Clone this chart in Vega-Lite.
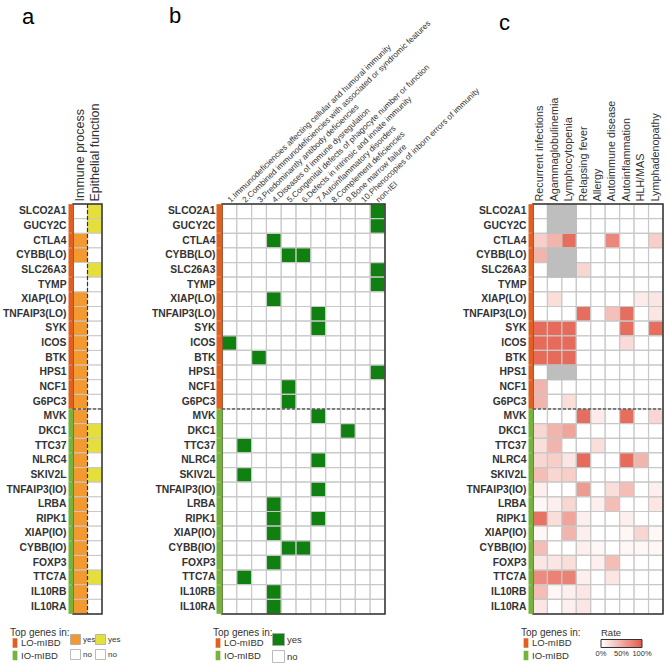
{
  "$schema": "https://vega.github.io/schema/vega-lite/v6.json",
  "padding": {"left": 2, "top": 5, "right": 5, "bottom": 5},
  "background": "white",
  "spacing": 120,
  "bounds": "flush",
  "config": {
    "view": {"stroke": null},
    "font": "Liberation Sans",
    "axis": {"labelFont": "Liberation Sans"},
    "legend": {"labelFont": "Liberation Sans", "titleFont": "Liberation Sans", "padding": 0},
    "title": {"font": "Liberation Sans"}
  },
  "datasets": {
    "a": [
      {"gene": "SLCO2A1", "group": "LO-mIBD", "Immune process": "no", "Epithelial function": "yes"},
      {"gene": "GUCY2C", "group": "LO-mIBD", "Immune process": "no", "Epithelial function": "yes"},
      {"gene": "CTLA4", "group": "LO-mIBD", "Immune process": "yes", "Epithelial function": "no"},
      {"gene": "CYBB(LO)", "group": "LO-mIBD", "Immune process": "yes", "Epithelial function": "no"},
      {"gene": "SLC26A3", "group": "LO-mIBD", "Immune process": "no", "Epithelial function": "yes"},
      {"gene": "TYMP", "group": "LO-mIBD", "Immune process": "no", "Epithelial function": "no"},
      {"gene": "XIAP(LO)", "group": "LO-mIBD", "Immune process": "yes", "Epithelial function": "no"},
      {"gene": "TNFAIP3(LO)", "group": "LO-mIBD", "Immune process": "yes", "Epithelial function": "no"},
      {"gene": "SYK", "group": "LO-mIBD", "Immune process": "yes", "Epithelial function": "no"},
      {"gene": "ICOS", "group": "LO-mIBD", "Immune process": "yes", "Epithelial function": "no"},
      {"gene": "BTK", "group": "LO-mIBD", "Immune process": "yes", "Epithelial function": "no"},
      {"gene": "HPS1", "group": "LO-mIBD", "Immune process": "yes", "Epithelial function": "no"},
      {"gene": "NCF1", "group": "LO-mIBD", "Immune process": "yes", "Epithelial function": "no"},
      {"gene": "G6PC3", "group": "LO-mIBD", "Immune process": "yes", "Epithelial function": "no"},
      {"gene": "MVK", "group": "IO-mIBD", "Immune process": "yes", "Epithelial function": "no"},
      {"gene": "DKC1", "group": "IO-mIBD", "Immune process": "yes", "Epithelial function": "yes"},
      {"gene": "TTC37", "group": "IO-mIBD", "Immune process": "yes", "Epithelial function": "yes"},
      {"gene": "NLRC4", "group": "IO-mIBD", "Immune process": "yes", "Epithelial function": "no"},
      {"gene": "SKIV2L", "group": "IO-mIBD", "Immune process": "yes", "Epithelial function": "yes"},
      {"gene": "TNFAIP3(IO)", "group": "IO-mIBD", "Immune process": "yes", "Epithelial function": "no"},
      {"gene": "LRBA", "group": "IO-mIBD", "Immune process": "yes", "Epithelial function": "no"},
      {"gene": "RIPK1", "group": "IO-mIBD", "Immune process": "yes", "Epithelial function": "no"},
      {"gene": "XIAP(IO)", "group": "IO-mIBD", "Immune process": "yes", "Epithelial function": "no"},
      {"gene": "CYBB(IO)", "group": "IO-mIBD", "Immune process": "yes", "Epithelial function": "no"},
      {"gene": "FOXP3", "group": "IO-mIBD", "Immune process": "yes", "Epithelial function": "no"},
      {"gene": "TTC7A", "group": "IO-mIBD", "Immune process": "yes", "Epithelial function": "yes"},
      {"gene": "IL10RB", "group": "IO-mIBD", "Immune process": "yes", "Epithelial function": "no"},
      {"gene": "IL10RA", "group": "IO-mIBD", "Immune process": "yes", "Epithelial function": "no"}
    ],
    "bcats": [
      {"key": "k1", "label": "1.Immunodeficiencies affecting cellular and humoral immunity"},
      {"key": "k2", "label": "2.Combined immunodeficiencies with associated or syndromic features"},
      {"key": "k3", "label": "3.Predominantly antibody deficiencies"},
      {"key": "k4", "label": "4.Diseases of immune dysregulation"},
      {"key": "k5", "label": "5.Congenital defects of phagocyte number or function"},
      {"key": "k6", "label": "6.Defects in intrinsic and innate immunity"},
      {"key": "k7", "label": "7.Autoinflammatory disorders"},
      {"key": "k8", "label": "8.Complement deficiencies"},
      {"key": "k9", "label": "9.Bone marrow failure"},
      {"key": "k10", "label": "10.Phenocopies of inborn errors of immunity"},
      {"key": "k11", "label": "non-IEI"}
    ],
    "b": [
      {"gene": "SLCO2A1", "group": "LO-mIBD", "k1": "no", "k2": "no", "k3": "no", "k4": "no", "k5": "no", "k6": "no", "k7": "no", "k8": "no", "k9": "no", "k10": "no", "k11": "yes"},
      {"gene": "GUCY2C", "group": "LO-mIBD", "k1": "no", "k2": "no", "k3": "no", "k4": "no", "k5": "no", "k6": "no", "k7": "no", "k8": "no", "k9": "no", "k10": "no", "k11": "yes"},
      {"gene": "CTLA4", "group": "LO-mIBD", "k1": "no", "k2": "no", "k3": "no", "k4": "yes", "k5": "no", "k6": "no", "k7": "no", "k8": "no", "k9": "no", "k10": "no", "k11": "no"},
      {"gene": "CYBB(LO)", "group": "LO-mIBD", "k1": "no", "k2": "no", "k3": "no", "k4": "no", "k5": "yes", "k6": "yes", "k7": "no", "k8": "no", "k9": "no", "k10": "no", "k11": "no"},
      {"gene": "SLC26A3", "group": "LO-mIBD", "k1": "no", "k2": "no", "k3": "no", "k4": "no", "k5": "no", "k6": "no", "k7": "no", "k8": "no", "k9": "no", "k10": "no", "k11": "yes"},
      {"gene": "TYMP", "group": "LO-mIBD", "k1": "no", "k2": "no", "k3": "no", "k4": "no", "k5": "no", "k6": "no", "k7": "no", "k8": "no", "k9": "no", "k10": "no", "k11": "yes"},
      {"gene": "XIAP(LO)", "group": "LO-mIBD", "k1": "no", "k2": "no", "k3": "no", "k4": "yes", "k5": "no", "k6": "no", "k7": "no", "k8": "no", "k9": "no", "k10": "no", "k11": "no"},
      {"gene": "TNFAIP3(LO)", "group": "LO-mIBD", "k1": "no", "k2": "no", "k3": "no", "k4": "no", "k5": "no", "k6": "no", "k7": "yes", "k8": "no", "k9": "no", "k10": "no", "k11": "no"},
      {"gene": "SYK", "group": "LO-mIBD", "k1": "no", "k2": "no", "k3": "no", "k4": "no", "k5": "no", "k6": "no", "k7": "yes", "k8": "no", "k9": "no", "k10": "no", "k11": "no"},
      {"gene": "ICOS", "group": "LO-mIBD", "k1": "yes", "k2": "no", "k3": "no", "k4": "no", "k5": "no", "k6": "no", "k7": "no", "k8": "no", "k9": "no", "k10": "no", "k11": "no"},
      {"gene": "BTK", "group": "LO-mIBD", "k1": "no", "k2": "no", "k3": "yes", "k4": "no", "k5": "no", "k6": "no", "k7": "no", "k8": "no", "k9": "no", "k10": "no", "k11": "no"},
      {"gene": "HPS1", "group": "LO-mIBD", "k1": "no", "k2": "no", "k3": "no", "k4": "no", "k5": "no", "k6": "no", "k7": "no", "k8": "no", "k9": "no", "k10": "no", "k11": "yes"},
      {"gene": "NCF1", "group": "LO-mIBD", "k1": "no", "k2": "no", "k3": "no", "k4": "no", "k5": "yes", "k6": "no", "k7": "no", "k8": "no", "k9": "no", "k10": "no", "k11": "no"},
      {"gene": "G6PC3", "group": "LO-mIBD", "k1": "no", "k2": "no", "k3": "no", "k4": "no", "k5": "yes", "k6": "no", "k7": "no", "k8": "no", "k9": "no", "k10": "no", "k11": "no"},
      {"gene": "MVK", "group": "IO-mIBD", "k1": "no", "k2": "no", "k3": "no", "k4": "no", "k5": "no", "k6": "no", "k7": "yes", "k8": "no", "k9": "no", "k10": "no", "k11": "no"},
      {"gene": "DKC1", "group": "IO-mIBD", "k1": "no", "k2": "no", "k3": "no", "k4": "no", "k5": "no", "k6": "no", "k7": "no", "k8": "no", "k9": "yes", "k10": "no", "k11": "no"},
      {"gene": "TTC37", "group": "IO-mIBD", "k1": "no", "k2": "yes", "k3": "no", "k4": "no", "k5": "no", "k6": "no", "k7": "no", "k8": "no", "k9": "no", "k10": "no", "k11": "no"},
      {"gene": "NLRC4", "group": "IO-mIBD", "k1": "no", "k2": "no", "k3": "no", "k4": "no", "k5": "no", "k6": "no", "k7": "yes", "k8": "no", "k9": "no", "k10": "no", "k11": "no"},
      {"gene": "SKIV2L", "group": "IO-mIBD", "k1": "no", "k2": "yes", "k3": "no", "k4": "no", "k5": "no", "k6": "no", "k7": "no", "k8": "no", "k9": "no", "k10": "no", "k11": "no"},
      {"gene": "TNFAIP3(IO)", "group": "IO-mIBD", "k1": "no", "k2": "no", "k3": "no", "k4": "no", "k5": "no", "k6": "no", "k7": "yes", "k8": "no", "k9": "no", "k10": "no", "k11": "no"},
      {"gene": "LRBA", "group": "IO-mIBD", "k1": "no", "k2": "no", "k3": "no", "k4": "yes", "k5": "no", "k6": "no", "k7": "no", "k8": "no", "k9": "no", "k10": "no", "k11": "no"},
      {"gene": "RIPK1", "group": "IO-mIBD", "k1": "no", "k2": "no", "k3": "no", "k4": "yes", "k5": "no", "k6": "no", "k7": "yes", "k8": "no", "k9": "no", "k10": "no", "k11": "no"},
      {"gene": "XIAP(IO)", "group": "IO-mIBD", "k1": "no", "k2": "no", "k3": "no", "k4": "yes", "k5": "no", "k6": "no", "k7": "no", "k8": "no", "k9": "no", "k10": "no", "k11": "no"},
      {"gene": "CYBB(IO)", "group": "IO-mIBD", "k1": "no", "k2": "no", "k3": "no", "k4": "no", "k5": "yes", "k6": "yes", "k7": "no", "k8": "no", "k9": "no", "k10": "no", "k11": "no"},
      {"gene": "FOXP3", "group": "IO-mIBD", "k1": "no", "k2": "no", "k3": "no", "k4": "yes", "k5": "no", "k6": "no", "k7": "no", "k8": "no", "k9": "no", "k10": "no", "k11": "no"},
      {"gene": "TTC7A", "group": "IO-mIBD", "k1": "no", "k2": "yes", "k3": "no", "k4": "no", "k5": "no", "k6": "no", "k7": "no", "k8": "no", "k9": "no", "k10": "no", "k11": "no"},
      {"gene": "IL10RB", "group": "IO-mIBD", "k1": "no", "k2": "no", "k3": "no", "k4": "yes", "k5": "no", "k6": "no", "k7": "no", "k8": "no", "k9": "no", "k10": "no", "k11": "no"},
      {"gene": "IL10RA", "group": "IO-mIBD", "k1": "no", "k2": "no", "k3": "no", "k4": "yes", "k5": "no", "k6": "no", "k7": "no", "k8": "no", "k9": "no", "k10": "no", "k11": "no"}
    ],
    "c": [
      {"gene": "SLCO2A1", "group": "LO-mIBD", "Recurrent infections": 0, "Agammaglobulinemia": null, "Lymphocytopenia": null, "Relapsing fever": 0, "Allergy": 0, "Autoimmune disease": 0, "Autoinflammation": 0, "HLH/MAS": 0, "Lymphadenopathy": 0},
      {"gene": "GUCY2C", "group": "LO-mIBD", "Recurrent infections": 0, "Agammaglobulinemia": null, "Lymphocytopenia": null, "Relapsing fever": 0, "Allergy": 0, "Autoimmune disease": 0, "Autoinflammation": 0, "HLH/MAS": 0, "Lymphadenopathy": 0},
      {"gene": "CTLA4", "group": "LO-mIBD", "Recurrent infections": 0.3, "Agammaglobulinemia": 0.45, "Lymphocytopenia": 0.88, "Relapsing fever": 0, "Allergy": 0, "Autoimmune disease": 0.72, "Autoinflammation": 0, "HLH/MAS": 0, "Lymphadenopathy": 0.3},
      {"gene": "CYBB(LO)", "group": "LO-mIBD", "Recurrent infections": 0.45, "Agammaglobulinemia": null, "Lymphocytopenia": null, "Relapsing fever": 0, "Allergy": 0, "Autoimmune disease": 0, "Autoinflammation": 0, "HLH/MAS": 0, "Lymphadenopathy": 0},
      {"gene": "SLC26A3", "group": "LO-mIBD", "Recurrent infections": 0, "Agammaglobulinemia": null, "Lymphocytopenia": null, "Relapsing fever": 0.25, "Allergy": 0, "Autoimmune disease": 0, "Autoinflammation": 0, "HLH/MAS": 0, "Lymphadenopathy": 0},
      {"gene": "TYMP", "group": "LO-mIBD", "Recurrent infections": 0, "Agammaglobulinemia": 0, "Lymphocytopenia": 0, "Relapsing fever": 0, "Allergy": 0, "Autoimmune disease": 0, "Autoinflammation": 0, "HLH/MAS": 0, "Lymphadenopathy": 0},
      {"gene": "XIAP(LO)", "group": "LO-mIBD", "Recurrent infections": 0, "Agammaglobulinemia": 0.2, "Lymphocytopenia": 0, "Relapsing fever": 0, "Allergy": 0, "Autoimmune disease": 0, "Autoinflammation": 0, "HLH/MAS": 0.12, "Lymphadenopathy": 0.15},
      {"gene": "TNFAIP3(LO)", "group": "LO-mIBD", "Recurrent infections": 0, "Agammaglobulinemia": 0, "Lymphocytopenia": 0, "Relapsing fever": 0.88, "Allergy": 0, "Autoimmune disease": 0.38, "Autoinflammation": 0.88, "HLH/MAS": 0, "Lymphadenopathy": 0.15},
      {"gene": "SYK", "group": "LO-mIBD", "Recurrent infections": 0.9, "Agammaglobulinemia": 0.9, "Lymphocytopenia": 0.9, "Relapsing fever": 0, "Allergy": 0, "Autoimmune disease": 0, "Autoinflammation": 0.88, "HLH/MAS": 0, "Lymphadenopathy": 0.88},
      {"gene": "ICOS", "group": "LO-mIBD", "Recurrent infections": 0.9, "Agammaglobulinemia": 0.9, "Lymphocytopenia": 0.9, "Relapsing fever": 0, "Allergy": 0, "Autoimmune disease": 0, "Autoinflammation": 0.22, "HLH/MAS": 0, "Lymphadenopathy": 0},
      {"gene": "BTK", "group": "LO-mIBD", "Recurrent infections": 0.9, "Agammaglobulinemia": 0.9, "Lymphocytopenia": 0.9, "Relapsing fever": 0, "Allergy": 0, "Autoimmune disease": 0, "Autoinflammation": 0, "HLH/MAS": 0, "Lymphadenopathy": 0},
      {"gene": "HPS1", "group": "LO-mIBD", "Recurrent infections": 0, "Agammaglobulinemia": null, "Lymphocytopenia": null, "Relapsing fever": 0, "Allergy": 0, "Autoimmune disease": 0, "Autoinflammation": 0, "HLH/MAS": 0, "Lymphadenopathy": 0},
      {"gene": "NCF1", "group": "LO-mIBD", "Recurrent infections": 0.45, "Agammaglobulinemia": 0, "Lymphocytopenia": 0, "Relapsing fever": 0, "Allergy": 0, "Autoimmune disease": 0, "Autoinflammation": 0, "HLH/MAS": 0, "Lymphadenopathy": 0},
      {"gene": "G6PC3", "group": "LO-mIBD", "Recurrent infections": 0.45, "Agammaglobulinemia": 0, "Lymphocytopenia": 0.2, "Relapsing fever": 0, "Allergy": 0, "Autoimmune disease": 0, "Autoinflammation": 0, "HLH/MAS": 0, "Lymphadenopathy": 0},
      {"gene": "MVK", "group": "IO-mIBD", "Recurrent infections": 0, "Agammaglobulinemia": 0, "Lymphocytopenia": 0, "Relapsing fever": 0.88, "Allergy": 0.12, "Autoimmune disease": 0, "Autoinflammation": 0.88, "HLH/MAS": 0, "Lymphadenopathy": 0.25},
      {"gene": "DKC1", "group": "IO-mIBD", "Recurrent infections": 0.25, "Agammaglobulinemia": 0.45, "Lymphocytopenia": 0.55, "Relapsing fever": 0, "Allergy": 0, "Autoimmune disease": 0, "Autoinflammation": 0, "HLH/MAS": 0, "Lymphadenopathy": 0},
      {"gene": "TTC37", "group": "IO-mIBD", "Recurrent infections": 0.2, "Agammaglobulinemia": 0.45, "Lymphocytopenia": 0, "Relapsing fever": 0, "Allergy": 0.2, "Autoimmune disease": 0, "Autoinflammation": 0, "HLH/MAS": 0, "Lymphadenopathy": 0},
      {"gene": "NLRC4", "group": "IO-mIBD", "Recurrent infections": 0.25, "Agammaglobulinemia": 0.3, "Lymphocytopenia": 0.15, "Relapsing fever": 0.9, "Allergy": 0, "Autoimmune disease": 0, "Autoinflammation": 0.9, "HLH/MAS": 0.45, "Lymphadenopathy": 0},
      {"gene": "SKIV2L", "group": "IO-mIBD", "Recurrent infections": 0.4, "Agammaglobulinemia": 0.25, "Lymphocytopenia": 0.3, "Relapsing fever": 0, "Allergy": 0, "Autoimmune disease": 0, "Autoinflammation": 0, "HLH/MAS": 0, "Lymphadenopathy": 0},
      {"gene": "TNFAIP3(IO)", "group": "IO-mIBD", "Recurrent infections": 0.1, "Agammaglobulinemia": 0, "Lymphocytopenia": 0, "Relapsing fever": 0.6, "Allergy": 0, "Autoimmune disease": 0.2, "Autoinflammation": 0.4, "HLH/MAS": 0, "Lymphadenopathy": 0.1},
      {"gene": "LRBA", "group": "IO-mIBD", "Recurrent infections": 0.05, "Agammaglobulinemia": 0.1, "Lymphocytopenia": 0.25, "Relapsing fever": 0, "Allergy": 0.1, "Autoimmune disease": 0.4, "Autoinflammation": 0, "HLH/MAS": 0, "Lymphadenopathy": 0.15},
      {"gene": "RIPK1", "group": "IO-mIBD", "Recurrent infections": 0.85, "Agammaglobulinemia": 0.2, "Lymphocytopenia": 0.55, "Relapsing fever": 0.1, "Allergy": 0, "Autoimmune disease": 0, "Autoinflammation": 0.1, "HLH/MAS": 0, "Lymphadenopathy": 0},
      {"gene": "XIAP(IO)", "group": "IO-mIBD", "Recurrent infections": 0.05, "Agammaglobulinemia": 0, "Lymphocytopenia": 0.45, "Relapsing fever": 0.1, "Allergy": 0, "Autoimmune disease": 0, "Autoinflammation": 0.05, "HLH/MAS": 0.25, "Lymphadenopathy": 0.05},
      {"gene": "CYBB(IO)", "group": "IO-mIBD", "Recurrent infections": 0.4, "Agammaglobulinemia": 0, "Lymphocytopenia": 0, "Relapsing fever": 0.1, "Allergy": 0.05, "Autoimmune disease": 0, "Autoinflammation": 0.05, "HLH/MAS": 0.05, "Lymphadenopathy": 0.05},
      {"gene": "FOXP3", "group": "IO-mIBD", "Recurrent infections": 0.15, "Agammaglobulinemia": 0.15, "Lymphocytopenia": 0.2, "Relapsing fever": 0, "Allergy": 0.1, "Autoimmune disease": 0.4, "Autoinflammation": 0, "HLH/MAS": 0, "Lymphadenopathy": 0},
      {"gene": "TTC7A", "group": "IO-mIBD", "Recurrent infections": 0.7, "Agammaglobulinemia": 0.75, "Lymphocytopenia": 0.75, "Relapsing fever": 0.1, "Allergy": 0, "Autoimmune disease": 0.15, "Autoinflammation": 0, "HLH/MAS": 0, "Lymphadenopathy": 0},
      {"gene": "IL10RB", "group": "IO-mIBD", "Recurrent infections": 0.4, "Agammaglobulinemia": 0.05, "Lymphocytopenia": 0.1, "Relapsing fever": 0.15, "Allergy": 0, "Autoimmune disease": 0, "Autoinflammation": 0, "HLH/MAS": 0, "Lymphadenopathy": 0},
      {"gene": "IL10RA", "group": "IO-mIBD", "Recurrent infections": 0.15, "Agammaglobulinemia": 0, "Lymphocytopenia": 0.1, "Relapsing fever": 0.15, "Allergy": 0, "Autoimmune disease": 0, "Autoinflammation": 0, "HLH/MAS": 0, "Lymphadenopathy": 0}
    ]
  },
  "resolve": {
    "scale": {"x": "independent", "y": "independent", "color": "independent", "fill": "independent"},
    "legend": {"color": "independent", "fill": "independent"},
    "axis": {"x": "independent", "y": "independent"}
  },
  "hconcat": [
    {
      "width": 29,
      "height": 410,
      "title": {"text": "a", "anchor": "start", "frame": "group", "fontSize": 22, "fontWeight": "normal", "color": "#000", "dx": -51, "dy": -74, "offset": 0},
      "data": {"name": "a"},
      "transform": [{"fold": ["Immune process", "Epithelial function"], "as": ["feature", "status"]}],
      "layer": [
        {
          "mark": {"type": "rect", "opacity": 0},
          "encoding": {
            "y": {"field": "gene", "type": "nominal", "scale": {"domain": ["SLCO2A1","GUCY2C","CTLA4","CYBB(LO)","SLC26A3","TYMP","XIAP(LO)","TNFAIP3(LO)","SYK","ICOS","BTK","HPS1","NCF1","G6PC3","MVK","DKC1","TTC37","NLRC4","SKIV2L","TNFAIP3(IO)","LRBA","RIPK1","XIAP(IO)","CYBB(IO)","FOXP3","TTC7A","IL10RB","IL10RA"], "paddingInner": 0, "paddingOuter": 0},
              "axis": {"orient": "left", "title": null, "labelFontSize": 10.3, "labelFontWeight": "bold", "labelColor": "#333", "labelPadding": 2, "tickSize": 5, "tickWidth": 14.7, "tickColor": {"condition": {"test": "datum.index > 0.5", "value": "#76B33A"}, "value": "#E1601F"}, "domain": false, "labelLimit": 0}},
            "color": {"field": "group", "type": "nominal", "scale": {"domain": ["LO-mIBD", "IO-mIBD"], "range": ["#E1601F", "#76B33A"]},
              "legend": {"orient": "none", "legendX": -63, "legendY": 424, "title": "Top genes in:", "titleFontSize": 10, "titleFontWeight": "normal", "titleColor": "#333", "titlePadding": 0, "labelFontSize": 9.5, "labelColor": "#333", "labelOffset": 1, "symbolType": "M-0.5,-1H0.5V1H-0.5Z", "symbolSize": 90, "symbolOpacity": 1, "symbolStrokeWidth": 0, "rowPadding": 2.5}}
          }
        },
        {
          "transform": [{"filter": "datum.feature == 'Immune process'"}],
          "mark": {"type": "rect", "stroke": "#c8c8c8", "strokeWidth": 1},
          "encoding": {
            "x": {"field": "feature", "type": "nominal", "scale": {"domain": ["Immune process", "Epithelial function"], "paddingInner": 0, "paddingOuter": 0},
              "axis": {"orient": "top", "title": null, "labelAngle": -90, "labelAlign": "left", "labelBaseline": "middle", "labelFontSize": 12.5, "labelColor": "#333", "labelPadding": 3, "ticks": false, "domain": false, "labelLimit": 0}},
            "y": {"field": "gene", "type": "nominal", "scale": {"domain": ["SLCO2A1","GUCY2C","CTLA4","CYBB(LO)","SLC26A3","TYMP","XIAP(LO)","TNFAIP3(LO)","SYK","ICOS","BTK","HPS1","NCF1","G6PC3","MVK","DKC1","TTC37","NLRC4","SKIV2L","TNFAIP3(IO)","LRBA","RIPK1","XIAP(IO)","CYBB(IO)","FOXP3","TTC7A","IL10RB","IL10RA"], "paddingInner": 0, "paddingOuter": 0},
              "axis": {"orient": "left", "title": null, "labelFontSize": 10.3, "labelFontWeight": "bold", "labelColor": "#333", "labelPadding": 2, "tickSize": 5, "tickWidth": 14.7, "tickColor": {"condition": {"test": "datum.index > 0.5", "value": "#76B33A"}, "value": "#E1601F"}, "domain": false, "labelLimit": 0}},
            "fill": {"field": "status", "type": "nominal", "scale": {"domain": ["yes", "no"], "range": ["#F29A30", "#ffffff"]},
              "legend": {"orient": "none", "legendX": -3, "legendY": 430, "title": null, "labelFontSize": 8, "labelColor": "#333", "symbolType": "square", "symbolSize": 100, "symbolStrokeColor": "#aaa", "symbolStrokeWidth": 0.8, "rowPadding": 0, "labelOffset": 2}}
          }
        },
        {
          "transform": [{"filter": "datum.feature == 'Epithelial function'"}],
          "mark": {"type": "rect", "stroke": "#c8c8c8", "strokeWidth": 1},
          "encoding": {
            "x": {"field": "feature", "type": "nominal", "scale": {"domain": ["Immune process", "Epithelial function"], "paddingInner": 0, "paddingOuter": 0}},
            "y": {"field": "gene", "type": "nominal", "scale": {"domain": ["SLCO2A1","GUCY2C","CTLA4","CYBB(LO)","SLC26A3","TYMP","XIAP(LO)","TNFAIP3(LO)","SYK","ICOS","BTK","HPS1","NCF1","G6PC3","MVK","DKC1","TTC37","NLRC4","SKIV2L","TNFAIP3(IO)","LRBA","RIPK1","XIAP(IO)","CYBB(IO)","FOXP3","TTC7A","IL10RB","IL10RA"], "paddingInner": 0, "paddingOuter": 0}},
            "fill": {"field": "status", "type": "nominal", "scale": {"domain": ["yes", "no"], "range": ["#E5DF3E", "#ffffff"]},
              "legend": {"orient": "none", "legendX": 22, "legendY": 430, "title": null, "labelFontSize": 8, "labelColor": "#333", "symbolType": "square", "symbolSize": 100, "symbolStrokeColor": "#aaa", "symbolStrokeWidth": 0.8, "rowPadding": 0, "labelOffset": 2}}
          }
        },
        {
          "data": {"values": [{}]},
          "mark": {"type": "rule", "stroke": "#333", "strokeWidth": 1.2, "strokeDash": [4, 2]},
          "encoding": {
            "x": {"datum": "Epithelial function", "bandPosition": 0, "scale": {"domain": ["Immune process", "Epithelial function"], "paddingInner": 0, "paddingOuter": 0}},
            "y": {"datum": "SLCO2A1", "bandPosition": 0, "scale": {"domain": ["SLCO2A1","GUCY2C","CTLA4","CYBB(LO)","SLC26A3","TYMP","XIAP(LO)","TNFAIP3(LO)","SYK","ICOS","BTK","HPS1","NCF1","G6PC3","MVK","DKC1","TTC37","NLRC4","SKIV2L","TNFAIP3(IO)","LRBA","RIPK1","XIAP(IO)","CYBB(IO)","FOXP3","TTC7A","IL10RB","IL10RA"], "paddingInner": 0, "paddingOuter": 0}},
            "y2": {"datum": "IL10RA", "bandPosition": 1}
          }
        },
        {
          "data": {"values": [{}]},
          "mark": {"type": "rule", "stroke": "#222", "strokeWidth": 1.2, "strokeDash": [3, 2]},
          "encoding": {
            "x": {"datum": "Immune process", "bandPosition": 0, "scale": {"domain": ["Immune process", "Epithelial function"], "paddingInner": 0, "paddingOuter": 0}},
            "x2": {"datum": "Epithelial function", "bandPosition": 1},
            "y": {"datum": "MVK", "bandPosition": 0, "scale": {"domain": ["SLCO2A1","GUCY2C","CTLA4","CYBB(LO)","SLC26A3","TYMP","XIAP(LO)","TNFAIP3(LO)","SYK","ICOS","BTK","HPS1","NCF1","G6PC3","MVK","DKC1","TTC37","NLRC4","SKIV2L","TNFAIP3(IO)","LRBA","RIPK1","XIAP(IO)","CYBB(IO)","FOXP3","TTC7A","IL10RB","IL10RA"], "paddingInner": 0, "paddingOuter": 0}}
          }
        },
        {
          "data": {"values": [{}]},
          "mark": {"type": "rect", "fill": null, "stroke": "#333", "strokeWidth": 1.5},
          "encoding": {
            "x": {"datum": "Immune process", "bandPosition": 0, "scale": {"domain": ["Immune process", "Epithelial function"], "paddingInner": 0, "paddingOuter": 0}},
            "x2": {"datum": "Epithelial function", "bandPosition": 1},
            "y": {"datum": "SLCO2A1", "bandPosition": 0, "scale": {"domain": ["SLCO2A1","GUCY2C","CTLA4","CYBB(LO)","SLC26A3","TYMP","XIAP(LO)","TNFAIP3(LO)","SYK","ICOS","BTK","HPS1","NCF1","G6PC3","MVK","DKC1","TTC37","NLRC4","SKIV2L","TNFAIP3(IO)","LRBA","RIPK1","XIAP(IO)","CYBB(IO)","FOXP3","TTC7A","IL10RB","IL10RA"], "paddingInner": 0, "paddingOuter": 0}},
            "y2": {"datum": "IL10RA", "bandPosition": 1}
          }
        }
      ],
      "resolve": {"scale": {"fill": "independent"}, "legend": {"fill": "independent"}}
    },
    {
      "width": 191,
      "height": 410,
      "title": {"text": "b", "anchor": "start", "frame": "group", "fontSize": 22, "fontWeight": "normal", "color": "#000", "dx": -53, "dy": 10, "offset": 0},
      "data": {"name": "b"},
      "transform": [
        {"fold": ["k1", "k2", "k3", "k4", "k5", "k6", "k7", "k8", "k9", "k10", "k11"], "as": ["key", "status"]},
        {"lookup": "key", "from": {"data": {"name": "bcats"}, "key": "key", "fields": ["label"]}}
      ],
      "layer": [
        {
          "mark": {"type": "rect", "opacity": 0},
          "encoding": {
            "y": {"field": "gene", "type": "nominal", "scale": {"domain": ["SLCO2A1","GUCY2C","CTLA4","CYBB(LO)","SLC26A3","TYMP","XIAP(LO)","TNFAIP3(LO)","SYK","ICOS","BTK","HPS1","NCF1","G6PC3","MVK","DKC1","TTC37","NLRC4","SKIV2L","TNFAIP3(IO)","LRBA","RIPK1","XIAP(IO)","CYBB(IO)","FOXP3","TTC7A","IL10RB","IL10RA"], "paddingInner": 0, "paddingOuter": 0},
              "axis": {"orient": "left", "title": null, "labelFontSize": 10.3, "labelFontWeight": "bold", "labelColor": "#333", "labelPadding": 1, "tickSize": 6, "tickWidth": 14.7, "tickColor": {"condition": {"test": "datum.index > 0.5", "value": "#76B33A"}, "value": "#E1601F"}, "domain": false, "labelLimit": 0}},
            "color": {"field": "group", "type": "nominal", "scale": {"domain": ["LO-mIBD", "IO-mIBD"], "range": ["#E1601F", "#76B33A"]},
              "legend": {"orient": "none", "legendX": -9, "legendY": 424, "title": "Top genes in:", "titleFontSize": 10, "titleFontWeight": "normal", "titleColor": "#333", "titlePadding": 0, "labelFontSize": 9.5, "labelColor": "#333", "labelOffset": 1, "symbolType": "M-0.5,-1H0.5V1H-0.5Z", "symbolSize": 90, "symbolOpacity": 1, "symbolStrokeWidth": 0, "rowPadding": 2.5}}
          }
        },
        {
          "mark": {"type": "rect", "stroke": "#c8c8c8", "strokeWidth": 1.2},
          "encoding": {
            "x": {"field": "label", "type": "nominal", "scale": {"domain": ["1.Immunodeficiencies affecting cellular and humoral immunity", "2.Combined immunodeficiencies with associated or syndromic features", "3.Predominantly antibody deficiencies", "4.Diseases of immune dysregulation", "5.Congenital defects of phagocyte number or function", "6.Defects in intrinsic and innate immunity", "7.Autoinflammatory disorders", "8.Complement deficiencies", "9.Bone marrow failure", "10.Phenocopies of inborn errors of immunity", "non-IEI"], "range": [0, 163], "paddingInner": 0, "paddingOuter": 0},
              "axis": {"orient": "top", "title": null, "labelAngle": -44, "labelAlign": "left", "labelBaseline": "middle", "labelFontSize": 8.2, "labelColor": "#333", "labelPadding": 3, "ticks": false, "domain": false, "labelLimit": 0}},
            "y": {"field": "gene", "type": "nominal", "scale": {"domain": ["SLCO2A1","GUCY2C","CTLA4","CYBB(LO)","SLC26A3","TYMP","XIAP(LO)","TNFAIP3(LO)","SYK","ICOS","BTK","HPS1","NCF1","G6PC3","MVK","DKC1","TTC37","NLRC4","SKIV2L","TNFAIP3(IO)","LRBA","RIPK1","XIAP(IO)","CYBB(IO)","FOXP3","TTC7A","IL10RB","IL10RA"], "paddingInner": 0, "paddingOuter": 0},
              "axis": {"orient": "left", "title": null, "labelFontSize": 10.3, "labelFontWeight": "bold", "labelColor": "#333", "labelPadding": 1, "tickSize": 6, "tickWidth": 14.7, "tickColor": {"condition": {"test": "datum.index > 0.5", "value": "#76B33A"}, "value": "#E1601F"}, "domain": false, "labelLimit": 0}},
            "fill": {"field": "status", "type": "nominal", "scale": {"domain": ["yes", "no"], "range": ["#108010", "#ffffff"]},
              "legend": {"orient": "none", "legendX": 50, "legendY": 429, "title": null, "labelFontSize": 9.5, "labelColor": "#333", "symbolType": "square", "symbolSize": 144, "symbolStrokeColor": "#aaa", "symbolStrokeWidth": 0.8, "rowPadding": 0, "labelOffset": 2}}
          }
        },
        {
          "data": {"values": [{}]},
          "mark": {"type": "rule", "stroke": "#222", "strokeWidth": 1.2, "strokeDash": [3, 2]},
          "encoding": {
            "x": {"datum": "1.Immunodeficiencies affecting cellular and humoral immunity", "bandPosition": 0, "scale": {"domain": ["1.Immunodeficiencies affecting cellular and humoral immunity", "2.Combined immunodeficiencies with associated or syndromic features", "3.Predominantly antibody deficiencies", "4.Diseases of immune dysregulation", "5.Congenital defects of phagocyte number or function", "6.Defects in intrinsic and innate immunity", "7.Autoinflammatory disorders", "8.Complement deficiencies", "9.Bone marrow failure", "10.Phenocopies of inborn errors of immunity", "non-IEI"], "range": [0, 163], "paddingInner": 0, "paddingOuter": 0}},
            "x2": {"datum": "non-IEI", "bandPosition": 1},
            "y": {"datum": "MVK", "bandPosition": 0, "scale": {"domain": ["SLCO2A1","GUCY2C","CTLA4","CYBB(LO)","SLC26A3","TYMP","XIAP(LO)","TNFAIP3(LO)","SYK","ICOS","BTK","HPS1","NCF1","G6PC3","MVK","DKC1","TTC37","NLRC4","SKIV2L","TNFAIP3(IO)","LRBA","RIPK1","XIAP(IO)","CYBB(IO)","FOXP3","TTC7A","IL10RB","IL10RA"], "paddingInner": 0, "paddingOuter": 0}}
          }
        },
        {
          "data": {"values": [{}]},
          "mark": {"type": "rect", "fill": null, "stroke": "#333", "strokeWidth": 1.5},
          "encoding": {
            "x": {"datum": "1.Immunodeficiencies affecting cellular and humoral immunity", "bandPosition": 0, "scale": {"domain": ["1.Immunodeficiencies affecting cellular and humoral immunity", "2.Combined immunodeficiencies with associated or syndromic features", "3.Predominantly antibody deficiencies", "4.Diseases of immune dysregulation", "5.Congenital defects of phagocyte number or function", "6.Defects in intrinsic and innate immunity", "7.Autoinflammatory disorders", "8.Complement deficiencies", "9.Bone marrow failure", "10.Phenocopies of inborn errors of immunity", "non-IEI"], "range": [0, 163], "paddingInner": 0, "paddingOuter": 0}},
            "x2": {"datum": "non-IEI", "bandPosition": 1},
            "y": {"datum": "SLCO2A1", "bandPosition": 0, "scale": {"domain": ["SLCO2A1","GUCY2C","CTLA4","CYBB(LO)","SLC26A3","TYMP","XIAP(LO)","TNFAIP3(LO)","SYK","ICOS","BTK","HPS1","NCF1","G6PC3","MVK","DKC1","TTC37","NLRC4","SKIV2L","TNFAIP3(IO)","LRBA","RIPK1","XIAP(IO)","CYBB(IO)","FOXP3","TTC7A","IL10RB","IL10RA"], "paddingInner": 0, "paddingOuter": 0}},
            "y2": {"datum": "IL10RA", "bandPosition": 1}
          }
        }
      ]
    },
    {
      "width": 130,
      "height": 410,
      "title": {"text": "c", "anchor": "start", "frame": "group", "fontSize": 22, "fontWeight": "normal", "color": "#000", "dx": -34, "dy": -62, "offset": 0},
      "data": {"name": "c"},
      "transform": [{"fold": ["Recurrent infections", "Agammaglobulinemia", "Lymphocytopenia", "Relapsing fever", "Allergy", "Autoimmune disease", "Autoinflammation", "HLH/MAS", "Lymphadenopathy"], "as": ["symptom", "rate"]}],
      "layer": [
        {
          "mark": {"type": "rect", "opacity": 0},
          "encoding": {
            "y": {"field": "gene", "type": "nominal", "scale": {"domain": ["SLCO2A1","GUCY2C","CTLA4","CYBB(LO)","SLC26A3","TYMP","XIAP(LO)","TNFAIP3(LO)","SYK","ICOS","BTK","HPS1","NCF1","G6PC3","MVK","DKC1","TTC37","NLRC4","SKIV2L","TNFAIP3(IO)","LRBA","RIPK1","XIAP(IO)","CYBB(IO)","FOXP3","TTC7A","IL10RB","IL10RA"], "paddingInner": 0, "paddingOuter": 0},
              "axis": {"orient": "left", "title": null, "labelFontSize": 10.3, "labelFontWeight": "bold", "labelColor": "#333", "labelPadding": 2, "tickSize": 5, "tickWidth": 14.7, "tickColor": {"condition": {"test": "datum.index > 0.5", "value": "#76B33A"}, "value": "#E1601F"}, "domain": false, "labelLimit": 0}},
            "color": {"field": "group", "type": "nominal", "scale": {"domain": ["LO-mIBD", "IO-mIBD"], "range": ["#E1601F", "#76B33A"]},
              "legend": {"orient": "none", "legendX": -12, "legendY": 424, "title": "Top genes in:", "titleFontSize": 10, "titleFontWeight": "normal", "titleColor": "#333", "titlePadding": 0, "labelFontSize": 9.5, "labelColor": "#333", "labelOffset": 1, "symbolType": "M-0.5,-1H0.5V1H-0.5Z", "symbolSize": 90, "symbolOpacity": 1, "symbolStrokeWidth": 0, "rowPadding": 2.5}}
          }
        },
        {
          "transform": [{"filter": "datum.rate != null"}],
          "mark": {"type": "rect", "stroke": "#c8c8c8", "strokeWidth": 1.2},
          "encoding": {
            "x": {"field": "symptom", "type": "nominal", "scale": {"domain": ["Recurrent infections", "Agammaglobulinemia", "Lymphocytopenia", "Relapsing fever", "Allergy", "Autoimmune disease", "Autoinflammation", "HLH/MAS", "Lymphadenopathy"], "paddingInner": 0, "paddingOuter": 0},
              "axis": {"orient": "top", "title": null, "labelAngle": -90, "labelAlign": "left", "labelBaseline": "middle", "labelFontSize": 10.8, "labelColor": "#333", "labelPadding": 3, "ticks": false, "domain": false, "labelLimit": 0}},
            "y": {"field": "gene", "type": "nominal", "scale": {"domain": ["SLCO2A1","GUCY2C","CTLA4","CYBB(LO)","SLC26A3","TYMP","XIAP(LO)","TNFAIP3(LO)","SYK","ICOS","BTK","HPS1","NCF1","G6PC3","MVK","DKC1","TTC37","NLRC4","SKIV2L","TNFAIP3(IO)","LRBA","RIPK1","XIAP(IO)","CYBB(IO)","FOXP3","TTC7A","IL10RB","IL10RA"], "paddingInner": 0, "paddingOuter": 0},
              "axis": {"orient": "left", "title": null, "labelFontSize": 10.3, "labelFontWeight": "bold", "labelColor": "#333", "labelPadding": 2, "tickSize": 5, "tickWidth": 14.7, "tickColor": {"condition": {"test": "datum.index > 0.5", "value": "#76B33A"}, "value": "#E1601F"}, "domain": false, "labelLimit": 0}},
            "fill": {"field": "rate", "type": "quantitative", "scale": {"type": "linear", "domain": [0, 1], "range": ["#ffffff", "#E35A48"], "interpolate": "rgb", "nice": false, "zero": false},
              "legend": {"orient": "none", "legendX": 68, "legendY": 424, "title": "Rate", "titleFontSize": 9.5, "titleFontWeight": "normal", "titleColor": "#333", "titlePadding": 2, "direction": "horizontal", "gradientLength": 41, "gradientThickness": 8, "gradientStrokeColor": "#333", "gradientStrokeWidth": 1, "values": [0, 0.5, 1], "format": ".0%", "labelFontSize": 7.5, "labelColor": "#333", "labelOverlap": false,
                "encode": {"labels": {"update": {"align": {"value": "center"}}}}}}
          }
        },
        {
          "transform": [{"filter": "datum.rate == null"}],
          "mark": {"type": "rect", "fill": "#BEBEBE", "stroke": "#BEBEBE", "strokeWidth": 1.2},
          "encoding": {
            "x": {"field": "symptom", "type": "nominal", "scale": {"domain": ["Recurrent infections", "Agammaglobulinemia", "Lymphocytopenia", "Relapsing fever", "Allergy", "Autoimmune disease", "Autoinflammation", "HLH/MAS", "Lymphadenopathy"], "paddingInner": 0, "paddingOuter": 0}},
            "y": {"field": "gene", "type": "nominal", "scale": {"domain": ["SLCO2A1","GUCY2C","CTLA4","CYBB(LO)","SLC26A3","TYMP","XIAP(LO)","TNFAIP3(LO)","SYK","ICOS","BTK","HPS1","NCF1","G6PC3","MVK","DKC1","TTC37","NLRC4","SKIV2L","TNFAIP3(IO)","LRBA","RIPK1","XIAP(IO)","CYBB(IO)","FOXP3","TTC7A","IL10RB","IL10RA"], "paddingInner": 0, "paddingOuter": 0}}
          }
        },
        {
          "data": {"values": [{}]},
          "mark": {"type": "rule", "stroke": "#222", "strokeWidth": 1.2, "strokeDash": [3, 2]},
          "encoding": {
            "x": {"datum": "Recurrent infections", "bandPosition": 0, "scale": {"domain": ["Recurrent infections", "Agammaglobulinemia", "Lymphocytopenia", "Relapsing fever", "Allergy", "Autoimmune disease", "Autoinflammation", "HLH/MAS", "Lymphadenopathy"], "paddingInner": 0, "paddingOuter": 0}},
            "x2": {"datum": "Lymphadenopathy", "bandPosition": 1},
            "y": {"datum": "MVK", "bandPosition": 0, "scale": {"domain": ["SLCO2A1","GUCY2C","CTLA4","CYBB(LO)","SLC26A3","TYMP","XIAP(LO)","TNFAIP3(LO)","SYK","ICOS","BTK","HPS1","NCF1","G6PC3","MVK","DKC1","TTC37","NLRC4","SKIV2L","TNFAIP3(IO)","LRBA","RIPK1","XIAP(IO)","CYBB(IO)","FOXP3","TTC7A","IL10RB","IL10RA"], "paddingInner": 0, "paddingOuter": 0}}
          }
        },
        {
          "data": {"values": [{}]},
          "mark": {"type": "rect", "fill": null, "stroke": "#333", "strokeWidth": 1.5},
          "encoding": {
            "x": {"datum": "Recurrent infections", "bandPosition": 0, "scale": {"domain": ["Recurrent infections", "Agammaglobulinemia", "Lymphocytopenia", "Relapsing fever", "Allergy", "Autoimmune disease", "Autoinflammation", "HLH/MAS", "Lymphadenopathy"], "paddingInner": 0, "paddingOuter": 0}},
            "x2": {"datum": "Lymphadenopathy", "bandPosition": 1},
            "y": {"datum": "SLCO2A1", "bandPosition": 0, "scale": {"domain": ["SLCO2A1","GUCY2C","CTLA4","CYBB(LO)","SLC26A3","TYMP","XIAP(LO)","TNFAIP3(LO)","SYK","ICOS","BTK","HPS1","NCF1","G6PC3","MVK","DKC1","TTC37","NLRC4","SKIV2L","TNFAIP3(IO)","LRBA","RIPK1","XIAP(IO)","CYBB(IO)","FOXP3","TTC7A","IL10RB","IL10RA"], "paddingInner": 0, "paddingOuter": 0}},
            "y2": {"datum": "IL10RA", "bandPosition": 1}
          }
        }
      ],
      "resolve": {"scale": {"fill": "independent"}, "legend": {"fill": "independent"}}
    }
  ]
}
